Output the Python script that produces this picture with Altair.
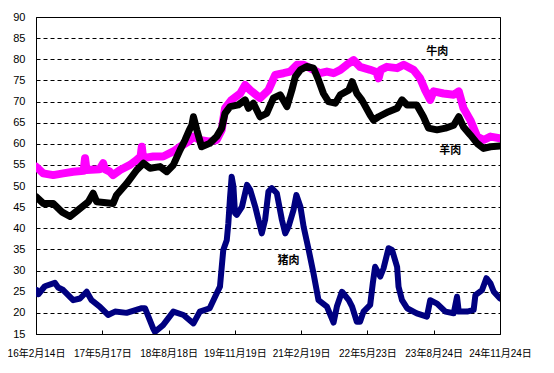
import altair as alt
import pandas as pd

# ---- data ----
beef_dates = ["2016-02-14","2016-04-04","2016-06-12","2016-08-20","2016-10-28","2017-01-08","2017-01-18","2017-01-28",
              "2017-04-29","2017-05-23","2017-06-03","2017-07-08","2017-07-31","2017-09-17","2017-11-25","2018-01-10",
              "2018-02-06","2018-02-14","2018-02-23","2018-05-04","2018-07-11","2018-09-20","2018-11-05","2019-01-02",
              "2019-02-06","2019-03-22","2019-05-29","2019-07-16","2019-08-20","2019-09-12","2019-10-28","2019-12-26",
              "2020-01-29","2020-03-04","2020-05-11","2020-07-08","2020-08-24","2020-10-20","2020-12-05","2021-01-21",
              "2021-03-08","2021-05-15","2021-06-29","2021-08-16","2021-10-01","2021-11-17","2021-12-31","2022-02-16",
              "2022-04-02","2022-06-11","2022-07-23","2022-08-08","2022-08-23","2022-10-04","2022-12-14","2023-01-29",
              "2023-04-06","2023-05-22","2023-06-26","2023-07-31","2023-08-23","2023-10-31","2024-01-09","2024-02-13",
              "2024-03-17","2024-05-03","2024-06-19","2024-08-03","2024-09-19","2024-11-24"]
beef_values = [54.6,53.0,52.6,53.0,53.4,53.6,56.6,53.8,
               54.0,55.4,54.0,53.4,52.6,53.8,55.0,56.2,
               57.0,59.3,56.6,57.0,57.0,58.2,59.3,60.5,
               61.7,60.9,60.5,60.9,63.3,68.4,70.4,71.9,
               73.9,72.7,70.8,72.7,76.3,76.7,77.1,78.7,
               78.7,77.5,76.7,77.1,76.7,77.5,78.7,79.8,
               78.2,77.5,77.0,75.5,77.5,78.2,77.9,78.7,
               77.5,75.5,72.7,70.4,72.4,71.9,71.6,72.4,
               68.4,65.6,61.7,60.9,61.7,61.3]

mutton_dates = ["2016-02-14","2016-04-04","2016-06-12","2016-08-10","2016-10-06","2016-12-14","2017-02-10","2017-03-15",
                "2017-04-08","2017-07-31","2017-08-24","2017-11-01","2018-01-10","2018-02-26","2018-04-12","2018-06-20",
                "2018-08-05","2018-09-20","2018-11-05","2018-12-10","2019-01-09","2019-01-26","2019-02-06","2019-03-01",
                "2019-04-03","2019-05-29","2019-07-16","2019-08-20","2019-09-12","2019-10-17","2019-12-13","2020-01-29",
                "2020-02-21","2020-03-26","2020-05-11","2020-06-26","2020-08-11","2020-09-27","2020-11-13","2020-12-17",
                "2021-01-10","2021-02-14","2021-03-29","2021-05-15","2021-06-19","2021-07-23","2021-08-27","2021-10-13",
                "2021-11-17","2022-01-14","2022-02-06","2022-03-11","2022-04-14","2022-06-11","2022-07-04","2022-08-08",
                "2022-10-16","2022-12-14","2023-01-17","2023-02-21","2023-04-29","2023-06-14","2023-07-19","2023-09-16",
                "2023-11-13","2024-01-09","2024-02-13","2024-03-17","2024-05-03","2024-06-19","2024-08-03","2024-09-19",
                "2024-11-24"]
mutton_values = [47.5,45.9,45.9,43.9,42.8,44.7,46.3,48.3,
                 46.3,45.9,47.9,50.6,53.8,55.4,54.2,54.6,
                 53.4,55.0,58.5,60.9,63.3,64.4,66.4,63.3,
                 59.3,60.1,61.7,63.7,67.2,68.8,69.2,70.4,
                 68.4,69.6,66.4,67.2,70.8,71.6,68.8,72.7,
                 75.9,77.5,78.3,77.9,75.1,71.9,70.0,69.6,
                 71.6,72.7,74.7,71.9,70.4,66.8,65.6,66.4,
                 67.6,68.4,70.4,69.2,69.2,66.4,63.7,63.3,
                 63.7,64.4,66.4,64.0,62.1,60.1,58.9,59.3,
                 59.5]

pork_dates = ["2016-02-19","2016-03-01","2016-04-15","2016-06-23","2016-07-16","2016-08-20","2016-10-28","2016-12-14",
              "2017-01-29","2017-03-04","2017-04-29","2017-06-26","2017-08-13","2017-11-01","2018-02-14","2018-03-08",
              "2018-05-04","2018-05-16","2018-07-11","2018-09-20","2018-11-29","2019-02-06","2019-03-22","2019-05-29",
              "2019-07-16","2019-08-08","2019-08-31","2019-09-24","2019-10-05","2019-10-17","2019-10-28","2019-11-09",
              "2019-11-20","2019-12-02","2020-01-07","2020-02-11","2020-03-04","2020-04-08","2020-05-23","2020-06-15",
              "2020-07-08","2020-07-31","2020-09-04","2020-10-09","2020-11-01","2020-11-24","2020-12-28","2021-01-17",
              "2021-02-14","2021-03-08","2021-04-12","2021-05-15","2021-06-19","2021-08-16","2021-10-01","2021-10-24",
              "2021-11-28","2022-01-14","2022-02-06","2022-03-11","2022-04-02","2022-04-26","2022-06-11","2022-06-29",
              "2022-07-15","2022-08-20","2022-09-11","2022-10-16","2022-11-09","2022-12-14","2022-12-24","2023-01-17",
              "2023-02-21","2023-04-29","2023-07-08","2023-07-31","2023-09-16","2023-11-13","2024-01-09","2024-02-01",
              "2024-02-13","2024-04-11","2024-05-26","2024-06-07","2024-07-23","2024-08-22","2024-09-19","2024-10-12",
              "2024-11-24"]
pork_values = [25.4,24.4,26.3,27.1,26.0,25.4,23.0,23.4,
               25.0,23.0,21.5,19.5,20.3,20.0,21.1,21.1,
               16.3,15.5,17.1,20.3,19.5,17.5,20.3,21.1,
               24.6,26.2,34.9,37.2,41.2,47.5,52.2,49.9,
               43.6,43.2,45.1,50.3,49.1,45.1,38.8,42.0,
               48.7,49.5,48.3,42.0,38.8,40.4,44.3,47.9,
               45.1,40.4,34.9,29.4,23.0,21.5,17.7,21.5,
               25.0,23.0,21.5,17.9,17.9,20.3,21.9,27.0,
               30.9,28.6,30.5,35.3,34.9,30.9,26.2,23.0,
               21.1,19.9,19.1,23.0,22.2,20.3,19.9,23.8,
               20.3,20.3,20.7,24.2,25.4,28.2,27.0,25.0,
               23.4]

tick_dates = ["2016-02-14","2017-05-17","2018-08-18","2019-11-19","2021-02-19","2022-05-23","2023-08-24","2024-11-24"]

label_texts = ["牛肉", "羊肉", "猪肉"]
label_dates = ["2023-09-17", "2023-12-17", "2020-11-23"]
label_values = [81.7, 58.3, 32.3]

series_names = ["牛肉", "羊肉", "猪肉"]
series_colors = ["#FF00FF", "#000000", "#000080"]
series_widths = [8, 7, 6]

# ---- build tables ----
frames = []
for i, (d, v) in enumerate([(beef_dates, beef_values), (mutton_dates, mutton_values), (pork_dates, pork_values)]):
    frames.append(pd.DataFrame({"date": pd.to_datetime(d), "value": v, "series": series_names[i], "order": i}))

def dt(s):
    t = pd.Timestamp(s)
    return alt.DateTime(year=t.year, month=t.month, date=t.day)

x_scale = alt.Scale(domain=[dt(tick_dates[0]), dt(tick_dates[-1])])
y_scale = alt.Scale(domain=[15, 90], nice=False, zero=False)

label_font = "Liberation Sans, Noto Sans CJK SC"
x_axis = alt.Axis(values=[dt(s) for s in tick_dates], format="%y年%-m月%-d日", formatType="time",
                  title=None, grid=False, domain=False, ticks=True, tickSize=4, offset=-4,
                  tickColor="black", labelPadding=14, labelFont=label_font,
                  labelFontSize=10, labelColor="black", labelAngle=0, labelAlign="center",
                  labelOverlap=False, labelFlush=False)
y_axis = alt.Axis(values=list(range(15, 91, 5)), title=None, grid=True, gridColor="black",
                  gridDash=[4, 3], gridWidth=1, gridOpacity=1, domain=True, domainColor="black",
                  ticks=False, labelPadding=11, labelFont=label_font, labelFontSize=11,
                  labelColor="black")

X = alt.X("date:T", scale=x_scale, axis=x_axis)
Y = alt.Y("value:Q", scale=y_scale, axis=y_axis)

layers = []
for i, f in enumerate(frames):
    layers.append(
        alt.Chart(f).mark_line(color=series_colors[i], strokeWidth=series_widths[i],
                               strokeJoin="round", strokeCap="round", clip=True)
        .encode(x=X, y=Y)
    )

labels_df = pd.DataFrame({"date": pd.to_datetime(label_dates), "value": label_values, "text": label_texts})
text_layer = alt.Chart(labels_df).mark_text(font="Noto Sans CJK SC", fontWeight="bold", fontSize=11,
                                            color="black").encode(x=X, y=Y, text="text:N")

chart = alt.layer(*layers, text_layer).properties(
    width=464, height=317,
    autosize=alt.AutoSizeParams(type="none"),
    padding={"left": 28, "top": 9, "right": 46, "bottom": 32},
    background="white",
).configure_view(stroke="black", strokeWidth=1)

chart.save("out.html", embed_options={"renderer": "svg", "actions": False})
